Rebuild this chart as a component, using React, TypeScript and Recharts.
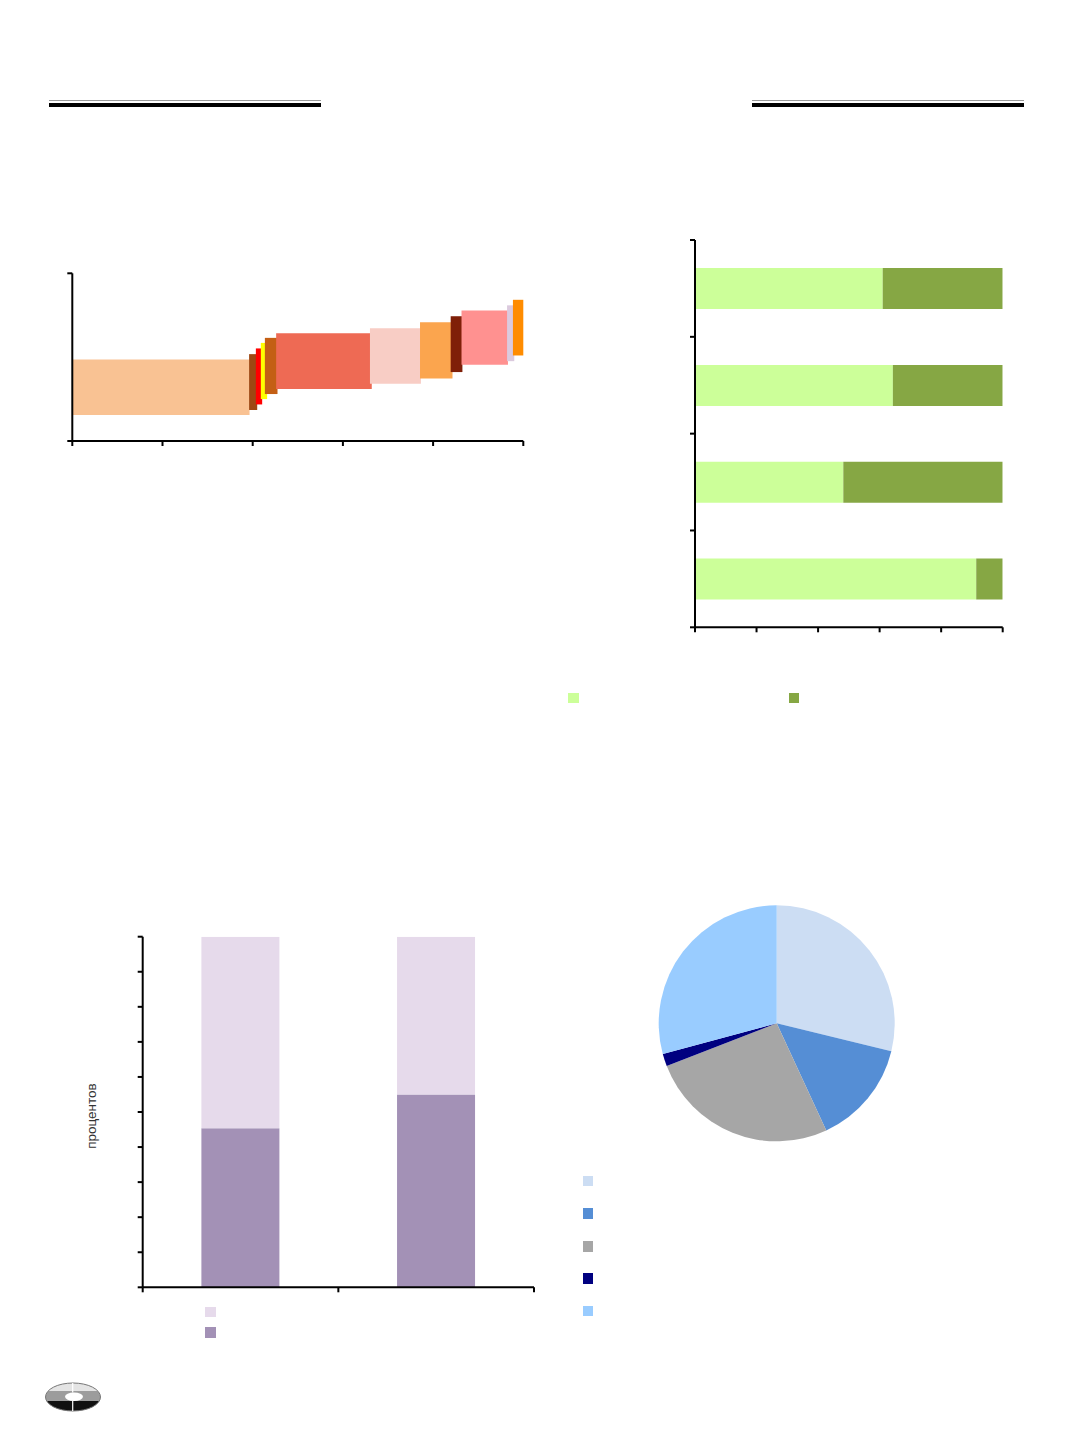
import React from 'react';
import { ComposedChart, BarChart, Bar, XAxis, YAxis, ReferenceArea, PieChart, Pie, Cell } from 'recharts';

// верхний левый: диапазоны переменной ширины
const stepStart = [0, 39.2, 40.7, 41.8, 42.7, 45.2, 66.0, 77.1, 83.9, 86.3, 96.4, 97.7];
const stepEnd = [39.3, 41.0, 42.1, 43.2, 45.5, 66.4, 77.3, 84.3, 86.5, 96.6, 98.0, 100];
const stepLow = [15.5, 18.5, 21.8, 25.0, 28.0, 31.0, 34.1, 37.3, 41.1, 45.4, 47.6, 51.0];
const stepHigh = [48.6, 51.8, 55.2, 58.5, 61.5, 64.3, 67.3, 70.8, 74.4, 77.8, 80.9, 84.2];
const stepColors = ['#F9C293', '#9E4812', '#FF0000', '#FFFF00', '#C45F14', '#EE6A54', '#F8CDC5', '#FBA54E', '#7F1F08', '#FF9190', '#DBCADE', '#FF8C00'];
const stepXTicks = [0, 20, 40, 60, 80, 100];
const stepYTicks = [0, 100];

// верхний правый: доли, 100%
const rowNames = ['r1', 'r2', 'r3', 'r4'];
const lightShare = [61.0, 64.3, 48.2, 91.4];
const darkShare = [39.0, 35.7, 51.8, 8.6];
const shareTicks = [0, 20, 40, 60, 80, 100];
const greenColors = ['#CCFF99', '#86A744'];

// нижний левый: два столбца, проценты
const colNames = ['c1', 'c2'];
const purpleDark = [45.4, 55.0];
const purpleLight = [54.6, 45.0];
const pctTicks = [0, 10, 20, 30, 40, 50, 60, 70, 80, 90, 100];
const purpleColors = ['#E6DAEB', '#A391B6'];

// нижний правый: круговая
const pieValues = [28.8, 14.3, 26.0, 1.7, 29.2];
const pieColors = ['#CCDDF3', '#558ED5', '#A6A6A6', '#000080', '#99CCFF'];

const noLabel = () => <g />;

const axisStyle = {
  stroke: '#000',
  strokeWidth: 2,
  axisLine: { stroke: '#000', strokeWidth: 2 },
  tickLine: { stroke: '#000', strokeWidth: 2 },
  tickSize: 5,
  tick: noLabel,
  interval: 0,
} as const;

// засечки категорийной оси — на границах категорий, как в Excel
function makeEdgeTick(count: number, fallbackHalf: number, vertical: boolean) {
  return function EdgeTick(props: any) {
    const { x, y, index, payload } = props;
    const half = payload && typeof payload.offset === 'number' && payload.offset > 0 ? payload.offset : fallbackHalf;
    const marks = index === count - 1 ? [-half, half] : [-half];
    return (
      <g>
        {marks.map((d) =>
          vertical ? (
            <line key={d} x1={x} x2={x + 5} y1={y + d} y2={y + d} stroke="#000" strokeWidth={2} />
          ) : (
            <line key={d} x1={x + d} x2={x + d} y1={y - 5} y2={y} stroke="#000" strokeWidth={2} />
          )
        )}
      </g>
    );
  };
}

const rowTick = makeEdgeTick(rowNames.length, 48.4, true);
const colTick = makeEdgeTick(colNames.length, 97.8, false);

function Square({ x, y, color }: { x: number; y: number; color: string }) {
  return <div style={{ position: 'absolute', left: x, top: y, width: 10.5, height: 10.5, background: color }} />;
}

function HeaderLine({ x, w }: { x: number; w: number }) {
  return (
    <>
      <div style={{ position: 'absolute', left: x, top: 100.3, width: w, height: 1.2, background: '#9a9a9a' }} />
      <div style={{ position: 'absolute', left: x, top: 102.8, width: w, height: 3.9, background: '#000' }} />
    </>
  );
}

function StepChart() {
  const rows = stepStart.map((s, i) => ({ x1: s, x2: stepEnd[i], y1: stepLow[i], y2: stepHigh[i], color: stepColors[i] }));
  return (
    <ComposedChart width={500} height={220} data={rows} margin={{ top: 23.3, right: 16.7, bottom: 21, left: 24.3 }}>
      <XAxis type="number" dataKey="x1" domain={[0, 100]} ticks={stepXTicks} allowDataOverflow height={8} {...axisStyle} />
      <YAxis type="number" dataKey="y1" domain={[0, 100]} ticks={stepYTicks} allowDataOverflow width={8} {...axisStyle} />
      {rows.map((r, i) => (
        <ReferenceArea key={i} x1={r.x1} x2={r.x2} y1={r.y1} y2={r.y2} fill={r.color} fillOpacity={1} stroke="none" ifOverflow="visible" />
      ))}
    </ComposedChart>
  );
}

function ShareChart() {
  const rows = rowNames.map((name, i) => ({ name, light: lightShare[i], dark: darkShare[i] }));
  return (
    <BarChart width={370} height={430} data={rows} layout="vertical" barCategoryGap="29%"
      margin={{ top: 20, right: 27.3, bottom: 14.7, left: 27 }}>
      <XAxis type="number" domain={[0, 100]} ticks={shareTicks} allowDataOverflow height={8} {...axisStyle} />
      <YAxis type="category" dataKey="name" width={8} {...axisStyle} tickLine={false} tickSize={5} tickMargin={0} tick={rowTick} />
      <Bar dataKey="light" stackId="s" fill={greenColors[0]} isAnimationActive={false} />
      <Bar dataKey="dark" stackId="s" fill={greenColors[1]} isAnimationActive={false} />
    </BarChart>
  );
}

function PercentChart() {
  const rows = colNames.map((name, i) => ({ name, dark: purpleDark[i], light: purpleLight[i] }));
  return (
    <BarChart width={470} height={400} data={rows} barCategoryGap="30%"
      margin={{ top: 26.7, right: 16, bottom: 14.7, left: 54.7 }}>
      <XAxis type="category" dataKey="name" height={8} {...axisStyle} tickLine={false} tickSize={5} tickMargin={0} tick={colTick} />
      <YAxis type="number" domain={[0, 100]} ticks={pctTicks} allowDataOverflow width={8} {...axisStyle} />
      <Bar dataKey="dark" stackId="s" fill={purpleColors[1]} isAnimationActive={false} />
      <Bar dataKey="light" stackId="s" fill={purpleColors[0]} isAnimationActive={false} />
    </BarChart>
  );
}

function StructurePie() {
  const rows = pieValues.map((value, i) => ({ name: 'p' + i, value }));
  return (
    <PieChart width={280} height={270} margin={{ top: 0, right: 0, bottom: 0, left: 0 }}>
      <Pie data={rows} dataKey="value" cx={136.7} cy={133.3} outerRadius={118} startAngle={90} endAngle={-270}
        stroke="none" isAnimationActive={false}>
        {rows.map((r, i) => <Cell key={r.name} fill={pieColors[i]} />)}
      </Pie>
    </PieChart>
  );
}

function Logo() {
  return (
    <svg width={70} height={40} style={{ position: 'absolute', left: 40, top: 1378 }}>
      <defs>
        <clipPath id="logoClip">
          <ellipse cx={33} cy={19} rx={27.5} ry={14} />
        </clipPath>
      </defs>
      <g clipPath="url(#logoClip)">
        <rect x={0} y={0} width={70} height={13} fill="#e4e4e4" />
        <rect x={0} y={13} width={70} height={10} fill="#9c9c9c" />
        <rect x={0} y={23} width={70} height={17} fill="#111" />
      </g>
      <ellipse cx={33} cy={19} rx={27.5} ry={14} fill="none" stroke="#777" strokeWidth={1} />
      <ellipse cx={34} cy={18.7} rx={9} ry={4.2} fill="#fff" />
      <line x1={32.7} y1={5} x2={32.7} y2={14.5} stroke="#fff" strokeWidth={1.2} />
      <line x1={32.7} y1={23} x2={32.7} y2={33} stroke="#fff" strokeWidth={1.2} />
    </svg>
  );
}

export default function App() {
  return (
    <div style={{ position: 'absolute', left: 0, top: 0, width: 1072, height: 1433, background: '#fff', overflow: 'hidden', fontFamily: '"Liberation Sans", Arial, sans-serif' }}>
      <HeaderLine x={49} w={271.7} />
      <HeaderLine x={752} w={272} />

      <div style={{ position: 'absolute', left: 40, top: 250 }}>
        <StepChart />
      </div>

      <div style={{ position: 'absolute', left: 660, top: 220 }}>
        <ShareChart />
      </div>
      <Square x={568.3} y={692.7} color={greenColors[0]} />
      <Square x={788.7} y={692.7} color={greenColors[1]} />

      <div style={{ position: 'absolute', left: 80, top: 910 }}>
        <PercentChart />
      </div>
      <div style={{ position: 'absolute', left: 91, top: 1116, transform: 'translate(-50%, -50%) rotate(-90deg)', fontSize: 13.5, color: '#333', whiteSpace: 'nowrap' }}>
        процентов
      </div>
      <Square x={205} y={1306.7} color={purpleColors[0]} />
      <Square x={205} y={1327.3} color={purpleColors[1]} />

      <div style={{ position: 'absolute', left: 640, top: 890 }}>
        <StructurePie />
      </div>
      {pieColors.map((c, i) => (
        <Square key={c} x={582.5} y={[1175.7, 1208, 1241, 1273, 1305.7][i]} color={c} />
      ))}

      <Logo />
    </div>
  );
}
